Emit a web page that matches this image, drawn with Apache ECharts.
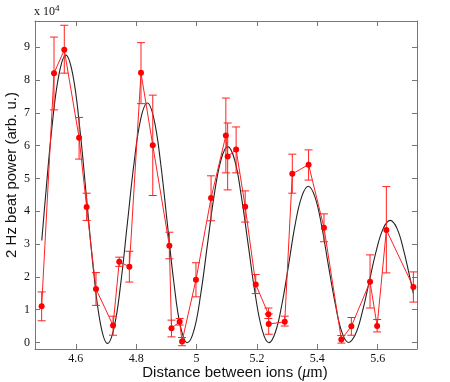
<!DOCTYPE html>
<html>
<head>
<meta charset="utf-8">
<script src="https://cdn.jsdelivr.net/npm/echarts@6/dist/echarts.min.js"></script>
<style>html,body{margin:0;padding:0;background:#fff}#c{width:450px;height:382px}</style>
</head>
<body>
<div id="c"></div>
<script>
// Measured data (power in units of 1e4, arb. u.)
const distance = [4.487,4.528,4.562,4.611,4.636,4.667,4.7235,4.744,4.7775,4.816,4.855,4.910,4.917,4.944,4.952,4.998,5.048,5.097,5.103,5.131,5.161,5.196,5.238,5.239,5.292,5.317,5.371,5.422,5.4795,5.5126,5.5745,5.598,5.6285,5.718];
const power    = [1.10,8.21,8.92,6.24,4.13,1.63,0.52,2.46,2.31,8.22,6.01,2.95,0.43,0.63,0.03,1.91,4.40,6.31,5.67,5.88,4.14,1.77,0.86,0.56,0.63,5.14,5.42,3.50,0.09,0.49,1.85,0.50,3.43,1.69];
const errLow   = [0.66,7.09,8.21,5.59,3.72,1.13,0.22,2.32,1.84,7.28,4.48,2.55,0.17,0.53,-0.10,1.39,3.71,5.17,4.65,5.17,3.67,1.49,0.73,0.25,0.50,4.55,4.95,3.07,-0.02,0.22,1.05,0.32,2.12,1.23];
const errHigh  = [1.54,9.31,9.67,6.86,4.55,2.13,0.80,2.60,2.78,9.14,7.54,3.36,0.68,0.73,0.15,2.43,5.08,7.45,6.69,6.57,4.62,2.07,1.05,0.87,0.80,5.74,5.87,3.92,0.21,0.76,2.67,0.70,4.75,2.15];

// Fit curve
const fitX = [4.4874,4.498,4.521,4.544,4.567,4.590,4.613,4.636,4.659,4.682,4.705,4.727,4.749,4.771,4.793,4.815,4.837,4.859,4.881,4.903,4.925,4.947,4.9695,4.992,5.014,5.036,5.058,5.081,5.103,5.126,5.148,5.171,5.194,5.217,5.2394,5.261,5.283,5.305,5.326,5.348,5.370,5.392,5.414,5.436,5.459,5.481,5.5027,5.526,5.549,5.572,5.595,5.618,5.641,5.664,5.686,5.709,5.718];
const fitY = [3.11,4.25,6.55,8.15,8.76,8.17,6.56,4.37,2.17,0.56,-0.03,0.46,1.80,3.64,5.47,6.81,7.30,6.81,5.47,3.645,1.82,0.48,-0.01,0.39,1.485,2.98,4.47,5.57,5.97,5.57,4.475,2.98,1.485,0.39,-0.01,0.31,1.18,2.375,3.57,4.44,4.76,4.44,3.57,2.38,1.19,0.32,0.0,0.25,0.93,1.86,2.79,3.47,3.72,3.47,2.80,1.87,1.49];

const xTicks = [4.6,4.8,5,5.2,5.4,5.6];
const yTicks = [0,1,2,3,4,5,6,7,8,9];

const chart = echarts.init(document.getElementById('c'), null, {renderer:'canvas'});
const axisCol = '#777';
const serif = 'Liberation Serif';
const sans = 'Liberation Sans';

function xAx(pos, show){
  return {type:'value', position:pos, min:4.465, max:5.73,
    axisLine:{show:true, onZero:false, lineStyle:{color:axisCol,width:1}},
    axisTick:{show:true, inside:true, length:5, customValues:xTicks, lineStyle:{color:axisCol}},
    axisLabel:{show:show, customValues:xTicks, margin:4, fontFamily:serif, fontSize:12, color:'#111'},
    splitLine:{show:false}};
}
function yAx(pos, show){
  return {type:'value', position:pos, min:-0.2, max:9.8,
    axisLine:{show:true, onZero:false, lineStyle:{color:axisCol,width:1}},
    axisTick:{show:true, inside:true, length:5, customValues:yTicks, lineStyle:{color:axisCol}},
    axisLabel:{show:show, customValues:yTicks, margin:5, fontFamily:serif, fontSize:12, color:'#111'},
    splitLine:{show:false}};
}

const pts = distance.map((x,i)=>[x,power[i]]);
const errs = distance.map((x,i)=>[x,errLow[i],errHigh[i]]);
const fit = fitX.map((x,i)=>[x,fitY[i]]);

chart.setOption({
  animation:false,
  backgroundColor:'#fff',
  grid:{left:35,right:33,top:21,bottom:33,containLabel:false},
  xAxis:[xAx('bottom',true), xAx('top',false)],
  yAxis:[yAx('left',true), yAx('right',false)],
  series:[
    {type:'line', data:fit, smooth:0.4, showSymbol:false, symbol:'none',
     lineStyle:{color:'#222',width:1.1}, z:2, clip:true},
    {type:'custom', data:errs, z:3,
     renderItem:function(params, api){
       const x=api.value(0), lo=api.value(1), hi=api.value(2);
       const a=api.coord([x,lo]), b=api.coord([x,hi]);
       const w=4;
       const st={stroke:'#ff2020',lineWidth:1};
       return {type:'group', children:[
         {type:'line', shape:{x1:a[0],y1:a[1],x2:b[0],y2:b[1]}, style:st},
         {type:'line', shape:{x1:a[0]-w,y1:a[1],x2:a[0]+w,y2:a[1]}, style:st},
         {type:'line', shape:{x1:b[0]-w,y1:b[1],x2:b[0]+w,y2:b[1]}, style:st}
       ]};
     }},
    {type:'line', data:pts, symbol:'circle', symbolSize:6, showSymbol:true,
     itemStyle:{color:'#ff0000'}, lineStyle:{color:'#ff2020',width:1}, z:4}
  ],
  graphic:[
    {type:'text', left:34, top:4, style:{rich:{a:{fontFamily:serif,fontSize:12,fill:'#111'},s:{fontFamily:serif,fontSize:9,fill:'#111',verticalAlign:'top',padding:[0,0,6,0]}}, text:'{a|x 10}{s|4}'}},
    {type:'text', x:235, y:373, style:{text:'Distance between ions ({mu|μ}{m|m})', rich:{mu:{fontFamily:serif,fontStyle:'italic',fontSize:16,fill:'#111'},m:{fontFamily:serif,fontSize:16,fill:'#111'}}, fontFamily:sans, fontSize:15, fill:'#111', align:'center', verticalAlign:'middle'}},
    {type:'text', x:12, y:175, rotation:Math.PI/2, style:{text:'2 Hz beat power (arb. u.)', fontFamily:sans, fontSize:15, fill:'#111', align:'center', verticalAlign:'middle'}}
  ]
});
</script>
</body>
</html>
